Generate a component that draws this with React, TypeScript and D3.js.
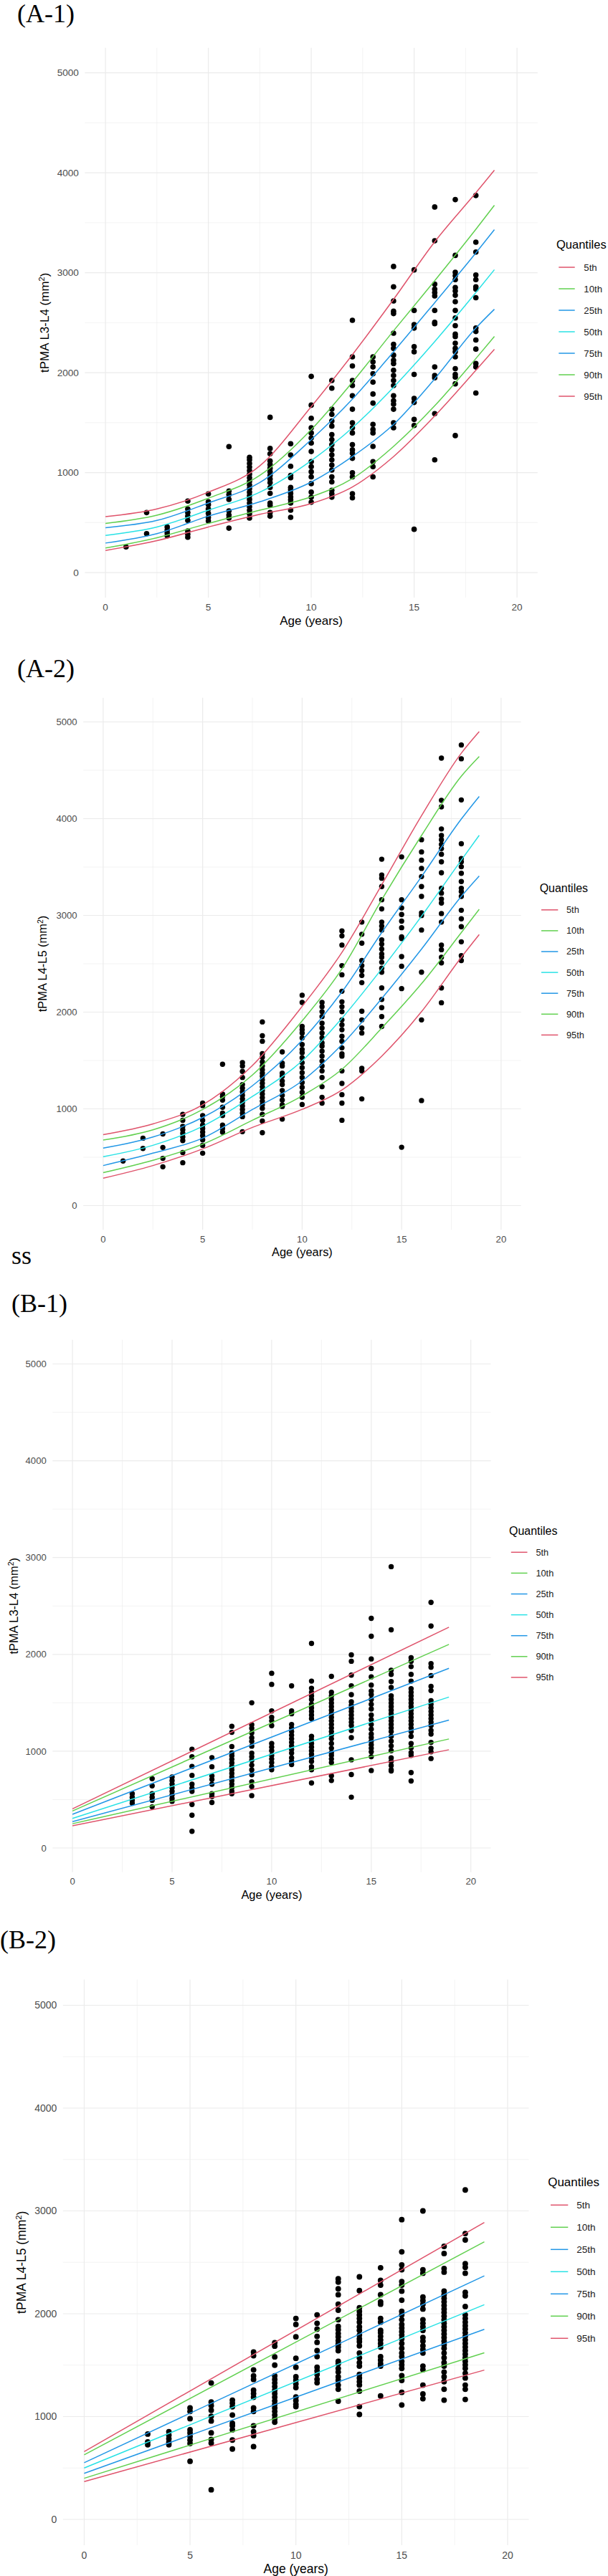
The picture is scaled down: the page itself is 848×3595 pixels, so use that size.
import { useEffect, useRef } from 'react';
import * as d3 from 'd3';

// legend order, colours follow R's default palette (2,3,4,5,4,3,2)
const quantileLabels = ['5th', '10th', '25th', '50th', '75th', '90th', '95th'];
const quantileColors = ['#DF536B', '#61D04F', '#2297E6', '#28E2E5', '#2297E6', '#61D04F', '#DF536B'];
const xTicks = [0, 5, 10, 15, 20];
const xMinor = [2.5, 7.5, 12.5, 17.5];
const yTicks = [0, 1000, 2000, 3000, 4000, 5000];
const yMinor = [500, 1500, 2500, 3500, 4500];

// quantile curves, read top curve -> bottom curve
const curveAgesA = [0, 2.5, 5, 7.5, 10, 12, 14, 16, 18, 18.9];
const a1Curves = [
  [559, 636, 804, 1068, 1660, 2180, 2733, 3309, 3799, 4025],
  [492, 574, 744, 972, 1430, 1905, 2419, 2920, 3434, 3674],
  [449, 521, 696, 900, 1330, 1735, 2209, 2700, 3197, 3430],
  [372, 456, 624, 804, 1120, 1448, 1854, 2311, 2801, 3030],
  [295, 389, 564, 708, 905, 1160, 1482, 1938, 2446, 2634],
  [245, 348, 492, 624, 758, 940, 1262, 1668, 2141, 2362],
  [221, 319, 456, 583, 690, 856, 1160, 1566, 2023, 2233],
];
const a2Curves = [
  [734, 845, 1042, 1448, 2060, 2618, 3316, 4030, 4677, 4900],
  [677, 783, 993, 1350, 1910, 2447, 3162, 3826, 4439, 4643],
  [594, 709, 911, 1239, 1710, 2209, 2822, 3401, 3996, 4230],
  [505, 623, 820, 1128, 1496, 1937, 2447, 2992, 3571, 3828],
  [414, 542, 697, 993, 1289, 1665, 2141, 2652, 3196, 3407],
  [340, 468, 635, 882, 1135, 1409, 1835, 2294, 2822, 3063],
  [283, 414, 586, 808, 995, 1195, 1545, 2005, 2567, 2802],
];
const lineAgesB = [0, 18.9];
const b1Lines = [
  [404, 2281],
  [382, 2103],
  [348, 1856],
  [306, 1559],
  [272, 1321],
  [251, 1126],
  [229, 1015],
];
const b2Lines = [
  [660, 2888],
  [628, 2700],
  [552, 2368],
  [500, 2088],
  [448, 1848],
  [400, 1620],
  [368, 1452],
];

// observed points: [age, values]
const a1Points: [number, number[]][] = [
  [1, [257]],
  [2, [600, 389]],
  [3, [456, 425, 396, 367]],
  [4, [715, 636, 600, 564, 521, 415, 384, 353]],
  [5, [787, 708, 679, 636, 593, 552, 516]],
  [6, [1260, 816, 780, 732, 617, 576, 545, 444]],
  [7, [1152, 1128, 1092, 1056, 1020, 984, 948, 912, 876, 840, 804, 768, 732, 696, 660, 624, 588, 545]],
  [8, [1553, 1241, 1188, 1116, 1080, 1044, 1008, 972, 936, 900, 852, 792, 696, 672, 600, 564]],
  [9, [1289, 1176, 1063, 972, 948, 852, 828, 792, 756, 727, 696, 624, 552]],
  [10, [1962, 1675, 1543, 1448, 1397, 1346, 1296, 1211, 1110, 1059, 1008, 957, 890, 805, 754, 704]],
  [11, [1922, 1844, 1634, 1583, 1516, 1465, 1380, 1330, 1279, 1228, 1177, 1127, 1076, 1025, 957, 907, 822, 788, 754]],
  [12, [2524, 2158, 2067, 1922, 1871, 1769, 1634, 1499, 1448, 1397, 1279, 1228, 1194, 1143, 998, 957, 788, 748]],
  [13, [2158, 2108, 2057, 1989, 1905, 1786, 1695, 1482, 1431, 1397, 1262, 1110, 1059, 957]],
  [14, [3062, 2859, 2717, 2615, 2591, 2395, 2284, 2243, 2175, 2124, 2091, 2023, 1972, 1922, 1871, 1769, 1719, 1685, 1634, 1499, 1448]],
  [15, [3028, 2622, 2480, 2446, 2260, 2209, 1982, 1742, 1702, 1532, 1472, 433]],
  [16, [3657, 3319, 2886, 2835, 2801, 2767, 2622, 2503, 2490, 2057, 1972, 1949, 1590, 1127]],
  [17, [3731, 3173, 3004, 2970, 2930, 2852, 2818, 2774, 2710, 2622, 2547, 2470, 2385, 2361, 2294, 2243, 2209, 2158, 2040, 1982, 1955, 1888, 1370]],
  [18, [3772, 3305, 3207, 2977, 2930, 2859, 2835, 2750, 2446, 2412, 2327, 2236, 2091, 2057, 1796]],
];
const a2Points: [number, number[]][] = [
  [1, [461]],
  [2, [697, 591]],
  [3, [741, 601, 488, 401]],
  [4, [943, 882, 820, 783, 746, 709, 672, 549, 443]],
  [5, [1059, 1034, 931, 882, 832, 796, 759, 722, 680, 623, 542]],
  [6, [1461, 1153, 1128, 1091, 1017, 956, 931, 832, 796, 759]],
  [7, [1478, 1443, 1387, 1325, 1251, 1214, 1177, 1140, 1103, 1066, 1030, 993, 956, 919, 764]],
  [8, [1899, 1756, 1699, 1571, 1534, 1485, 1443, 1404, 1369, 1337, 1300, 1264, 1227, 1190, 1153, 1116, 1079, 1042, 1005, 943, 874, 754]],
  [9, [1589, 1473, 1443, 1369, 1337, 1288, 1251, 1190, 1140, 1091, 1042, 1025, 894]],
  [10, [2175, 2100, 1852, 1818, 1784, 1733, 1665, 1614, 1580, 1528, 1477, 1426, 1375, 1324, 1273, 1222, 1171, 1120, 1045]],
  [11, [2100, 2056, 2005, 1954, 1886, 1835, 1784, 1733, 1682, 1648, 1596, 1545, 1494, 1443, 1392, 1324, 1229, 1120, 1059]],
  [12, [2839, 2788, 2693, 2481, 2386, 2216, 2107, 2056, 2005, 1920, 1869, 1818, 1750, 1699, 1631, 1569, 1545, 1392, 1263, 1147, 1059, 882]],
  [13, [2931, 2805, 2713, 2533, 2481, 2430, 2379, 2305, 2009, 1920, 1835, 1784, 1420, 1392, 1103]],
  [14, [3581, 3418, 3384, 3298, 3162, 3067, 2931, 2890, 2849, 2747, 2703, 2652, 2601, 2567, 2516, 2454, 2413, 2250, 2131, 2046, 1954, 1852]],
  [15, [3605, 3162, 3077, 3009, 2941, 2873, 2778, 2761, 2574, 2475, 2243, 603]],
  [16, [3782, 3656, 3571, 3486, 3401, 3298, 3196, 3026, 2999, 2849, 2413, 1920, 1086]],
  [17, [4626, 4190, 4122, 3894, 3826, 3782, 3734, 3690, 3632, 3554, 3441, 3281, 3230, 3169, 3128, 3019, 2931, 2693, 2645, 2567, 2509, 2250, 2097]],
  [18, [4762, 4619, 4194, 3741, 3588, 3554, 3503, 3435, 3350, 3281, 3247, 3196, 3053, 2965, 2883, 2727, 2584, 2533]],
];
const b1Points: [number, number[]][] = [
  [3, [561, 524, 492, 462]],
  [4, [716, 642, 561, 524, 492, 425]],
  [5, [733, 696, 659, 622, 585, 548, 511, 482]],
  [6, [1020, 942, 843, 750, 659, 617, 585, 450, 339, 172]],
  [7, [934, 839, 745, 708, 659, 561, 531, 470]],
  [8, [1257, 1195, 1048, 984, 954, 917, 880, 843, 807, 770, 733, 696, 659, 622, 585, 561]],
  [9, [1500, 1274, 1237, 1188, 1139, 1102, 1052, 979, 942, 905, 856, 807, 757, 684, 634, 541]],
  [10, [1805, 1690, 1416, 1350, 1313, 1264, 1079, 1042, 1005, 956, 919, 882, 838, 808]],
  [11, [1675, 1416, 1387, 1276, 1239, 1202, 1165, 1128, 1091, 1054, 1017, 980, 931, 894, 862]],
  [12, [2113, 1724, 1650, 1608, 1571, 1534, 1485, 1448, 1411, 1374, 1337, 1153, 1116, 1079, 1042, 1005, 968, 931, 894, 838, 808, 672]],
  [13, [1773, 1608, 1571, 1534, 1497, 1461, 1424, 1387, 1350, 1313, 1276, 1239, 1202, 1165, 1128, 1079, 1030, 985, 956, 919, 882, 746, 697]],
  [14, [1995, 1929, 1786, 1675, 1584, 1510, 1473, 1443, 1411, 1374, 1337, 1300, 1264, 1214, 1140, 911, 759, 525]],
  [15, [2372, 2187, 1953, 1855, 1768, 1682, 1621, 1584, 1535, 1485, 1436, 1374, 1325, 1276, 1227, 1177, 1140, 1103, 1066, 1030, 993, 943, 800]],
  [16, [2906, 2254, 1837, 1793, 1719, 1658, 1571, 1535, 1497, 1461, 1424, 1387, 1350, 1313, 1276, 1239, 1202, 1153, 1103, 1054, 1005, 931, 894, 852, 808, 795]],
  [17, [1966, 1929, 1874, 1793, 1724, 1645, 1608, 1571, 1535, 1497, 1461, 1424, 1387, 1350, 1313, 1276, 1239, 1202, 1153, 1079, 1034, 985, 956, 779, 692]],
  [18, [2537, 2293, 1904, 1867, 1781, 1670, 1626, 1522, 1485, 1448, 1411, 1374, 1337, 1300, 1264, 1214, 1177, 1091, 1030, 993, 924]],
];
const b2Points: [number, number[]][] = [
  [3, [830, 754, 726]],
  [4, [853, 819, 784, 749, 726]],
  [5, [1084, 1050, 980, 872, 842, 807, 772, 738, 565]],
  [6, [1327, 1142, 1107, 1061, 1003, 957, 842, 777, 742, 288]],
  [7, [1160, 1130, 1096, 1015, 934, 911, 872, 772, 685]],
  [8, [1627, 1592, 1454, 1396, 1361, 1257, 1223, 1188, 1084, 1050, 911, 853, 814, 708]],
  [9, [1719, 1685, 1581, 1500, 1396, 1361, 1327, 1292, 1257, 1223, 1188, 1153, 1119, 1084, 1050, 1015, 980, 946]],
  [10, [1954, 1896, 1776, 1567, 1479, 1387, 1352, 1317, 1282, 1190, 1155, 1120, 1097]],
  [11, [1989, 1907, 1850, 1780, 1722, 1641, 1583, 1479, 1445, 1410, 1363, 1329]],
  [12, [2340, 2308, 2243, 2185, 2093, 2035, 1942, 1877, 1845, 1808, 1776, 1738, 1706, 1676, 1641, 1537, 1514, 1468, 1433, 1387, 1352, 1306, 1266, 1150]],
  [13, [2359, 2225, 2058, 2023, 1988, 1954, 1919, 1873, 1838, 1792, 1757, 1729, 1688, 1618, 1572, 1525, 1491, 1410, 1375, 1340, 1306, 1248, 1097, 1021]],
  [14, [2447, 2324, 2278, 2185, 2116, 2093, 1954, 1919, 1838, 1815, 1780, 1745, 1711, 1676, 1583, 1549, 1514, 1491, 1201]],
  [15, [2915, 2602, 2475, 2428, 2313, 2278, 2220, 2132, 2023, 1989, 1942, 1896, 1861, 1826, 1792, 1757, 1711, 1664, 1618, 1583, 1537, 1502, 1468, 1398, 1352, 1236, 1113]],
  [16, [3000, 2428, 2394, 2162, 2127, 2093, 2046, 1942, 1907, 1873, 1838, 1769, 1734, 1688, 1653, 1618, 1491, 1456, 1306, 1220, 1174]],
  [17, [2655, 2586, 2440, 2405, 2220, 2185, 2150, 2116, 2081, 2046, 2012, 1977, 1942, 1907, 1873, 1838, 1803, 1769, 1734, 1699, 1664, 1618, 1572, 1525, 1491, 1433, 1387, 1340, 1266, 1160]],
  [18, [3204, 2780, 2718, 2486, 2452, 2394, 2208, 2174, 2070, 1989, 1954, 1919, 1884, 1850, 1815, 1780, 1745, 1711, 1676, 1641, 1607, 1572, 1537, 1502, 1468, 1421, 1375, 1306, 1266, 1167]],
];

type Panel = {
  tag: string; tagX: number; tagY: number;
  yTitle: string;
  left: number; right: number; top: number; bottom: number;
  yTitleX: number; xTickY: number; xTitleY: number;
  legX: number; legY: number; itemY: number; itemStep: number;
  keyX1: number; keyX2: number; labX: number;
  scale: number;
  ages: number[]; curves: number[][]; points: [number, number[]][];
  smooth: boolean;
};

const panels: Panel[] = [
  {
    tag: '(A-1)', tagX: 24, tagY: 31, yTitle: 'tPMA L3-L4',
    left: 118.4, right: 749.8, top: 66.7, bottom: 833.9,
    yTitleX: 62, xTickY: 847, xTitleY: 866,
    legX: 776, legY: 341.6, itemY: 373, itemStep: 30,
    keyX1: 779.3, keyX2: 801.7, labX: 814.3, scale: 1,
    ages: curveAgesA, curves: a1Curves, points: a1Points, smooth: true,
  },
  {
    tag: '(A-2)', tagX: 24, tagY: 945, yTitle: 'tPMA L4-L5',
    left: 116.15, right: 726.65, top: 973.75, bottom: 1716.25,
    yTitleX: 59.5, xTickY: 1729.6, xTitleY: 1746.8,
    legX: 752.7, legY: 1239.5, itemY: 1269.8, itemStep: 29.1,
    keyX1: 755, keyX2: 778.3, labX: 790, scale: 0.967,
    ages: curveAgesA, curves: a2Curves, points: a2Points, smooth: true,
  },
  {
    tag: '(B-1)', tagX: 16, tagY: 1830.5, yTitle: 'tPMA L3-L4',
    left: 73.3, right: 684.5, top: 1869.7, bottom: 2612.8,
    yTitleX: 19, xTickY: 2625.6, xTitleY: 2644,
    legX: 710, legY: 2136.5, itemY: 2166.3, itemStep: 29.1,
    keyX1: 712.8, keyX2: 735.5, labX: 747.4, scale: 0.968,
    ages: lineAgesB, curves: b1Lines, points: b1Points, smooth: false,
  },
  {
    tag: '(B-2)', tagX: 0, tagY: 2719, yTitle: 'tPMA L4-L5',
    left: 87.9, right: 737.5, top: 2762.6, bottom: 3551.9,
    yTitleX: 29.7, xTickY: 3565.9, xTitleY: 3584.8,
    legX: 764.2, legY: 3044.6, itemY: 3077.3, itemStep: 31,
    keyX1: 768, keyX2: 792.3, labX: 804.2, scale: 1.029,
    ages: lineAgesB, curves: b2Lines, points: b2Points, smooth: false,
  },
];

const SANS = '"Liberation Sans", Arial, sans-serif';
const SERIF = '"Liberation Serif", "Times New Roman", serif';

function drawPanel(root: d3.Selection<SVGSVGElement, unknown, null, undefined>, p: Panel) {
  const g = root.append('g');
  const x = d3.scaleLinear().domain([-1, 21]).range([p.left, p.right]);
  const y = d3.scaleLinear().domain([-250, 5250]).range([p.bottom, p.top]);
  const s = p.scale;

  // grid: minor first, then major
  g.selectAll('.xminor').data(xMinor).enter().append('line')
    .attr('x1', d => x(d)).attr('x2', d => x(d)).attr('y1', p.top).attr('y2', p.bottom)
    .attr('stroke', '#EBEBEB').attr('stroke-width', 0.6);
  g.selectAll('.yminor').data(yMinor).enter().append('line')
    .attr('x1', p.left).attr('x2', p.right).attr('y1', d => y(d)).attr('y2', d => y(d))
    .attr('stroke', '#EBEBEB').attr('stroke-width', 0.6);
  g.selectAll('.xmajor').data(xTicks).enter().append('line')
    .attr('x1', d => x(d)).attr('x2', d => x(d)).attr('y1', p.top).attr('y2', p.bottom)
    .attr('stroke', '#EBEBEB').attr('stroke-width', 1.2);
  g.selectAll('.ymajor').data(yTicks).enter().append('line')
    .attr('x1', p.left).attr('x2', p.right).attr('y1', d => y(d)).attr('y2', d => y(d))
    .attr('stroke', '#EBEBEB').attr('stroke-width', 1.2);

  // points
  const pts = p.points.flatMap(([age, vals]) => vals.map(v => ({ age, v })));
  g.selectAll('.pt').data(pts).enter().append('circle')
    .attr('cx', d => x(d.age)).attr('cy', d => y(d.v)).attr('r', 3.8 * s)
    .attr('fill', '#000');

  // quantile curves
  const line = d3.line<number>()
    .x((_, i) => x(p.ages[i]))
    .y(d => y(d))
    .curve(p.smooth ? d3.curveMonotoneX : d3.curveLinear);
  p.curves.forEach((c, i) => {
    g.append('path').datum(c)
      .attr('fill', 'none').attr('stroke', quantileColors[i]).attr('stroke-width', 1.5)
      .attr('d', line);
  });

  // axis tick labels
  g.selectAll('.ytl').data(yTicks).enter().append('text')
    .attr('x', p.left - 8.5).attr('y', d => y(d)).attr('dy', '0.35em')
    .attr('text-anchor', 'end').attr('font-family', SANS).attr('font-size', 13.6 * s)
    .attr('fill', '#4D4D4D').text(d => `${d}`);
  g.selectAll('.xtl').data(xTicks).enter().append('text')
    .attr('x', d => x(d)).attr('y', p.xTickY).attr('dy', '0.35em')
    .attr('text-anchor', 'middle').attr('font-family', SANS).attr('font-size', 13.6 * s)
    .attr('fill', '#4D4D4D').text(d => `${d}`);

  // axis titles
  g.append('text')
    .attr('x', (x(-1) + x(21)) / 2).attr('y', p.xTitleY).attr('dy', '0.35em')
    .attr('text-anchor', 'middle').attr('font-family', SANS).attr('font-size', 17 * s)
    .attr('fill', '#000').text('Age (years)');
  const cy = (p.top + p.bottom) / 2;
  const yt = g.append('text')
    .attr('transform', `translate(${p.yTitleX + 6 * s},${cy}) rotate(-90)`)
    .attr('text-anchor', 'middle').attr('font-family', SANS).attr('font-size', 17 * s)
    .attr('fill', '#000');
  yt.append('tspan').text(`${p.yTitle} (mm`);
  yt.append('tspan').attr('dy', -6 * s).attr('font-size', 11 * s).text('2');
  yt.append('tspan').attr('dy', 6 * s).text(')');

  // legend
  g.append('text')
    .attr('x', p.legX).attr('y', p.legY).attr('dy', '0.35em')
    .attr('font-family', SANS).attr('font-size', 16.5 * s).attr('fill', '#000')
    .text('Quantiles');
  const items = g.selectAll('.leg').data(quantileLabels).enter().append('g')
    .attr('transform', (_, i) => `translate(0,${p.itemY + i * p.itemStep})`);
  items.append('line')
    .attr('x1', p.keyX1).attr('x2', p.keyX2).attr('y1', 0).attr('y2', 0)
    .attr('stroke', (_, i) => quantileColors[i]).attr('stroke-width', 1.5);
  items.append('text')
    .attr('x', p.labX).attr('y', 0).attr('dy', '0.35em')
    .attr('font-family', SANS).attr('font-size', 13.2 * s).attr('fill', '#1A1A1A')
    .text(d => d);

  // panel tag
  g.append('text')
    .attr('x', p.tagX).attr('y', p.tagY)
    .attr('font-family', SERIF).attr('font-size', 36).attr('fill', '#000')
    .text(p.tag);
}

export default function App() {
  const svgRef = useRef<SVGSVGElement>(null);

  useEffect(() => {
    if (!svgRef.current) return;
    const svg = d3.select(svgRef.current);
    svg.selectAll('*').remove();
    svg.append('rect').attr('width', 848).attr('height', 3595).attr('fill', '#fff');
    panels.forEach(p => drawPanel(svg, p));
    // stray label under panel A-2
    svg.append('text')
      .attr('x', 16).attr('y', 1764)
      .attr('font-family', SERIF).attr('font-size', 36).attr('fill', '#000')
      .text('ss');
  }, []);

  return (
    <svg
      ref={svgRef}
      width={848}
      height={3595}
      style={{ position: 'absolute', left: 0, top: 0, display: 'block' }}
    />
  );
}
